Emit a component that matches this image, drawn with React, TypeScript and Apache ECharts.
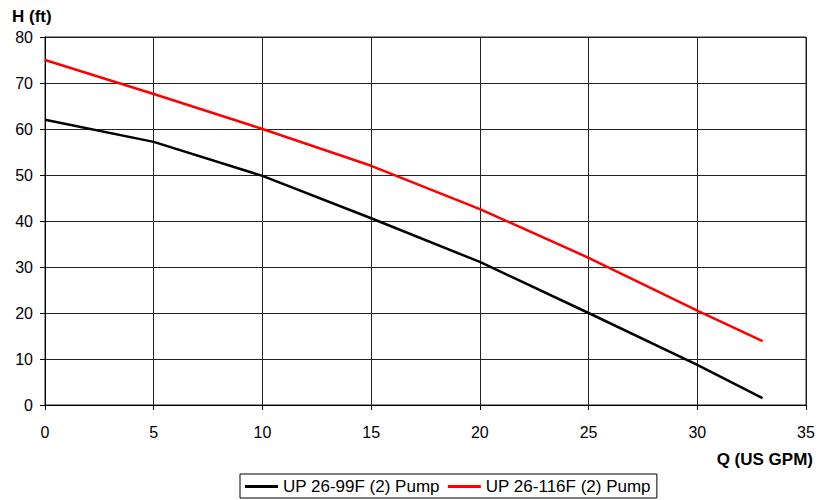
import React, { useEffect, useRef } from "react";
import * as echarts from "echarts";

const flowQ = [0, 5, 10, 15, 20, 25, 30, 33];
const head99F = [62, 57.2, 49.8, 40.6, 31.1, 20, 8.7, 1.5];
const head116F = [75, 67.6, 60, 52, 42.6, 32, 20.5, 13.9];
const seriesNames = ["UP 26-99F (2) Pump", "UP 26-116F (2) Pump"];
const seriesColors = ["#000000", "#ff0000"];

export default function App() {
  const ref = useRef<HTMLDivElement>(null);
  useEffect(() => {
    if (!ref.current) return;
    const chart = echarts.init(ref.current, null, { renderer: "svg" });
    const font = "Liberation Sans, Arial, sans-serif";
    chart.setOption({
      animation: false,
      backgroundColor: "#ffffff",
      textStyle: { fontFamily: font },
      grid: { left: 45, right: 22, top: 37, bottom: 95, containLabel: false },
      xAxis: {
        type: "value",
        min: 0,
        max: 35,
        interval: 5,
        axisLine: { show: true, lineStyle: { color: "#000", width: 1 } },
        axisTick: { show: true, length: 5, lineStyle: { color: "#000" } },
        axisLabel: { color: "#000", fontSize: 16, margin: 19, fontFamily: font },
        splitLine: { show: true, lineStyle: { color: "#222", width: 1 } },
      },
      yAxis: {
        type: "value",
        min: 0,
        max: 80,
        interval: 10,
        axisLine: { show: true, lineStyle: { color: "#000", width: 1 } },
        axisTick: { show: true, length: 5, lineStyle: { color: "#000" } },
        axisLabel: { color: "#000", fontSize: 16, margin: 12, fontFamily: font },
        splitLine: { show: true, lineStyle: { color: "#222", width: 1 } },
      },
      graphic: [
        {
          type: "rect",
          shape: { x: 45, y: 37, width: 761, height: 368 },
          style: { fill: "none", stroke: "#222", lineWidth: 1 },
          silent: true,
        },
        {
          type: "text",
          left: 12,
          top: 8,
          style: { text: "H (ft)", font: `bold 17px ${font}`, fill: "#000" },
        },
        {
          type: "text",
          right: 15,
          top: 451,
          style: { text: "Q (US GPM)", font: `bold 17px ${font}`, fill: "#000" },
        },
      ],
      legend: {
        bottom: 2,
        left: 240,
        orient: "horizontal",
        borderColor: "#000",
        borderWidth: 1,
        borderRadius: 0,
        padding: [4, 6, 3, 5],
        icon: "rect",
        itemWidth: 33,
        itemHeight: 3,
        itemGap: 8,
        textStyle: { color: "#000", fontSize: 17, fontFamily: font },
        data: seriesNames,
      },
      series: seriesNames.map((name, i) => ({
        name,
        type: "line",
        symbol: "none",
        smooth: false,
        lineStyle: { color: seriesColors[i], width: 2.5 },
        itemStyle: { color: seriesColors[i] },
        data: flowQ.map((q, j) => [q, (i === 0 ? head99F : head116F)[j]]),
      })),
    });
    return () => chart.dispose();
  }, []);
  return <div ref={ref} style={{ width: 828, height: 500, position: "absolute", left: 0, top: 0 }} />;
}
